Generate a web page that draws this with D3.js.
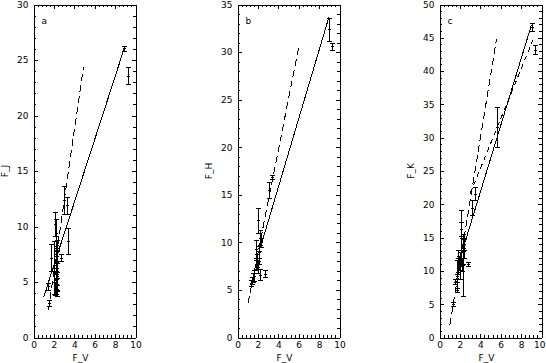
<!DOCTYPE html>
<html>
<head>
<meta charset="utf-8">
<script src="https://cdn.jsdelivr.net/npm/d3@7"></script>
<style>
body { margin: 0; background: #fff; }
svg { display: block; }
text { font-family: "DejaVu Sans", sans-serif; font-size: 9px; fill: #000; }
</style>
</head>
<body>
<svg id="chart" width="546" height="363"></svg>
<script>
// panel a: F_J against F_V
var aV    = [1.40, 1.55, 1.68, 2.05, 2.12, 2.18, 2.22, 2.20, 2.25, 2.20, 2.28, 2.15, 2.30, 2.35, 2.18, 2.26, 2.32, 2.24, 2.70, 2.95, 3.25, 3.35, 8.90, 9.30];
var aF    = [4.6, 3.1, 7.2, 6.3, 10.2, 8.2, 7.5, 6.5, 5.8, 5.2, 4.8, 4.4, 4.2, 8.3, 9.4, 6.9, 5.5, 4.6, 7.2, 12.4, 11.9, 8.7, 26.05, 23.6];
var aErr  = [0.3, 0.25, 1.2, 2.4, 1.1, 0.9, 1.2, 0.8, 1.0, 0.8, 0.6, 0.6, 0.5, 0.5, 1.3, 1.0, 1.2, 0.7, 0.35, 1.25, 0.8, 1.15, 0.25, 0.8];
var aDashV  = [1.47, 4.90];
var aDashF  = [2.5, 24.4];
var aSolidV = [1.0, 8.9];
var aSolidF = [3.66, 26.06];

// panel b: F_H against F_V
var bV    = [1.35, 1.45, 1.55, 1.65, 1.80, 1.85, 1.95, 2.00, 2.05, 2.10, 2.15, 2.20, 2.30, 2.25, 2.65, 3.05, 3.40, 8.97, 9.31];
var bF    = [5.7, 6.0, 6.3, 6.5, 7.6, 9.3, 8.0, 12.3, 7.4, 8.4, 9.0, 10.5, 10.0, 6.6, 6.7, 15.5, 16.9, 32.4, 30.6];
var bErr  = [0.3, 0.4, 0.5, 0.6, 0.5, 0.9, 0.8, 1.3, 0.6, 0.7, 0.6, 0.8, 0.5, 0.6, 0.35, 0.8, 0.2, 1.2, 0.4];
var bDashV  = [1.03, 6.02];
var bDashF  = [3.6, 30.6];
var bSolidV = [2.37, 8.97];
var bSolidF = [9.9, 33.7];

// panel c: F_K against F_V
var cV    = [1.33, 1.50, 1.67, 1.75, 1.80, 1.85, 1.67, 1.90, 2.00, 2.10, 2.15, 2.20, 2.30, 2.32, 2.40, 2.45, 2.80, 3.14, 3.46, 5.59, 9.08, 9.34];
var cF    = [5.0, 8.4, 7.2, 9.0, 10.8, 11.5, 9.3, 11.2, 10.8, 15.0, 16.3, 11.0, 12.0, 10.9, 14.0, 13.5, 11.1, 19.5, 21.6, 31.6, 46.6, 43.2];
var cErr  = [0.3, 0.35, 0.3, 0.6, 1.2, 1.6, 2.4, 1.0, 2.0, 4.2, 1.0, 1.0, 1.0, 4.7, 0.8, 1.5, 0.3, 1.1, 1.0, 2.95, 0.6, 0.7];
var cDashV  = [1.01, 5.59];
var cDashF  = [1.85, 44.8];
var cSolidV = [2.32, 9.01];
var cSolidF = [13.4, 46.9];
var cDash2V = [3.0, 9.17];
var cDash2F = [21.6, 44.7];

var panels = [
    { letter: "a", title: "F_J", yMax: 30, left: 33.5, v: aV, f: aF, err: aErr,
      lines: [{ v: aDashV, f: aDashF, dash: "7,4" }, { v: aSolidV, f: aSolidF, dash: null }] },
    { letter: "b", title: "F_H", yMax: 35, left: 237.5, v: bV, f: bF, err: bErr,
      lines: [{ v: bDashV, f: bDashF, dash: "7,4" }, { v: bSolidV, f: bSolidF, dash: null }] },
    { letter: "c", title: "F_K", yMax: 50, left: 439.5, v: cV, f: cF, err: cErr,
      lines: [{ v: cDashV, f: cDashF, dash: "7,4" }, { v: cSolidV, f: cSolidF, dash: null },
              { v: cDash2V, f: cDash2F, dash: "5,4" }] }
];

var TOP = 4.5, BOTTOM = 337.5, WIDTH = 102;
var svg = d3.select("#chart");

function range(start, stop, step) {
    var out = [];
    for (var i = 0; start + i * step <= stop + 1e-9; i++) out.push(+(start + i * step).toFixed(3));
    return out;
}

function drawPanel(p) {
    var x = d3.scaleLinear().domain([0, 10]).range([p.left, p.left + WIDTH]);
    var y = d3.scaleLinear().domain([0, p.yMax]).range([BOTTOM, TOP]);
    var g = svg.append("g").attr("shape-rendering", "crispEdges");

    var xMajor = range(0, 10, 2);
    var xMinor = range(0, 10, 0.4).filter(function (d) { return xMajor.indexOf(d) < 0; });
    var yMajor = range(0, p.yMax, 5);
    var yMinor = range(0, p.yMax, 1).filter(function (d) { return d % 5 !== 0; });

    // axes with inward ticks on all four sides
    var xAxis = g.append("g").attr("transform", "translate(0," + BOTTOM + ")")
        .call(d3.axisBottom(x).tickValues(xMajor).tickSizeInner(-4).tickSizeOuter(0).tickPadding(4).tickFormat(d3.format("d")));
    g.append("g").attr("transform", "translate(0," + BOTTOM + ")")
        .call(d3.axisBottom(x).tickValues(xMinor).tickSizeInner(-2.5).tickSizeOuter(0).tickFormat(""));
    g.append("g").attr("transform", "translate(0," + TOP + ")")
        .call(d3.axisTop(x).tickValues(xMajor).tickSizeInner(-4).tickSizeOuter(0).tickFormat(""));
    g.append("g").attr("transform", "translate(0," + TOP + ")")
        .call(d3.axisTop(x).tickValues(xMinor).tickSizeInner(-2.5).tickSizeOuter(0).tickFormat(""));
    g.append("g").attr("transform", "translate(" + p.left + ",0)")
        .call(d3.axisLeft(y).tickValues(yMajor).tickSizeInner(-4).tickSizeOuter(0).tickPadding(5).tickFormat(d3.format("d")));
    g.append("g").attr("transform", "translate(" + p.left + ",0)")
        .call(d3.axisLeft(y).tickValues(yMinor).tickSizeInner(-2.5).tickSizeOuter(0).tickFormat(""));
    g.append("g").attr("transform", "translate(" + (p.left + WIDTH) + ",0)")
        .call(d3.axisRight(y).tickValues(yMajor).tickSizeInner(-4).tickSizeOuter(0).tickFormat(""));
    g.append("g").attr("transform", "translate(" + (p.left + WIDTH) + ",0)")
        .call(d3.axisRight(y).tickValues(yMinor).tickSizeInner(-2.5).tickSizeOuter(0).tickFormat(""));

    g.selectAll(".domain, .tick line").attr("stroke", "#000");
    g.selectAll(".tick text").attr("font-size", 9).attr("font-family", "DejaVu Sans, sans-serif");

    // keep the last x label inside the window
    var lastLabel = xAxis.selectAll(".tick text").filter(function (d) { return d === 10; });
    if (x(10) + 6 > 546) lastLabel.attr("text-anchor", "end").attr("x", 545 - x(10));

    // titles
    svg.append("text").attr("x", (p.left + WIDTH / 2) - 4).attr("y", 361)
        .attr("text-anchor", "middle").text("F_V");
    svg.append("text")
        .attr("transform", "translate(" + (p.left - 26) + "," + ((TOP + BOTTOM) / 2) + ") rotate(-90)")
        .attr("text-anchor", "middle").text(p.title);
    svg.append("text").attr("x", p.left + 8).attr("y", 24).text(p.letter);

    // fit lines
    var line = d3.line().x(function (d) { return x(d[0]); }).y(function (d) { return y(d[1]); });
    p.lines.forEach(function (l) {
        g.append("path").datum(d3.zip(l.v, l.f)).attr("d", line)
            .attr("fill", "none").attr("stroke", "#000").attr("stroke-width", 1)
            .attr("stroke-dasharray", l.dash);
    });

    // error bars with caps and plus markers
    var pts = d3.range(p.v.length).map(function (i) { return { v: p.v[i], f: p.f[i], e: p.err[i] }; });
    var bars = g.selectAll(".eb").data(pts).enter().append("g").attr("class", "eb")
        .attr("stroke", "#000").attr("stroke-width", 1);
    bars.append("line")
        .attr("x1", function (d) { return Math.round(x(d.v)) + 0.5; })
        .attr("x2", function (d) { return Math.round(x(d.v)) + 0.5; })
        .attr("y1", function (d) { return y(d.f - d.e); })
        .attr("y2", function (d) { return y(d.f + d.e); });
    [-1, 1].forEach(function (s) {
        bars.append("line")
            .attr("x1", function (d) { return Math.round(x(d.v)) - 2; })
            .attr("x2", function (d) { return Math.round(x(d.v)) + 3; })
            .attr("y1", function (d) { return Math.round(y(d.f + s * d.e)) + 0.5; })
            .attr("y2", function (d) { return Math.round(y(d.f + s * d.e)) + 0.5; });
    });
    bars.append("line")
        .attr("x1", function (d) { return Math.round(x(d.v)) - 1; })
        .attr("x2", function (d) { return Math.round(x(d.v)) + 2; })
        .attr("y1", function (d) { return Math.round(y(d.f)) + 0.5; })
        .attr("y2", function (d) { return Math.round(y(d.f)) + 0.5; });
}

panels.forEach(drawPanel);
</script>
</body>
</html>
